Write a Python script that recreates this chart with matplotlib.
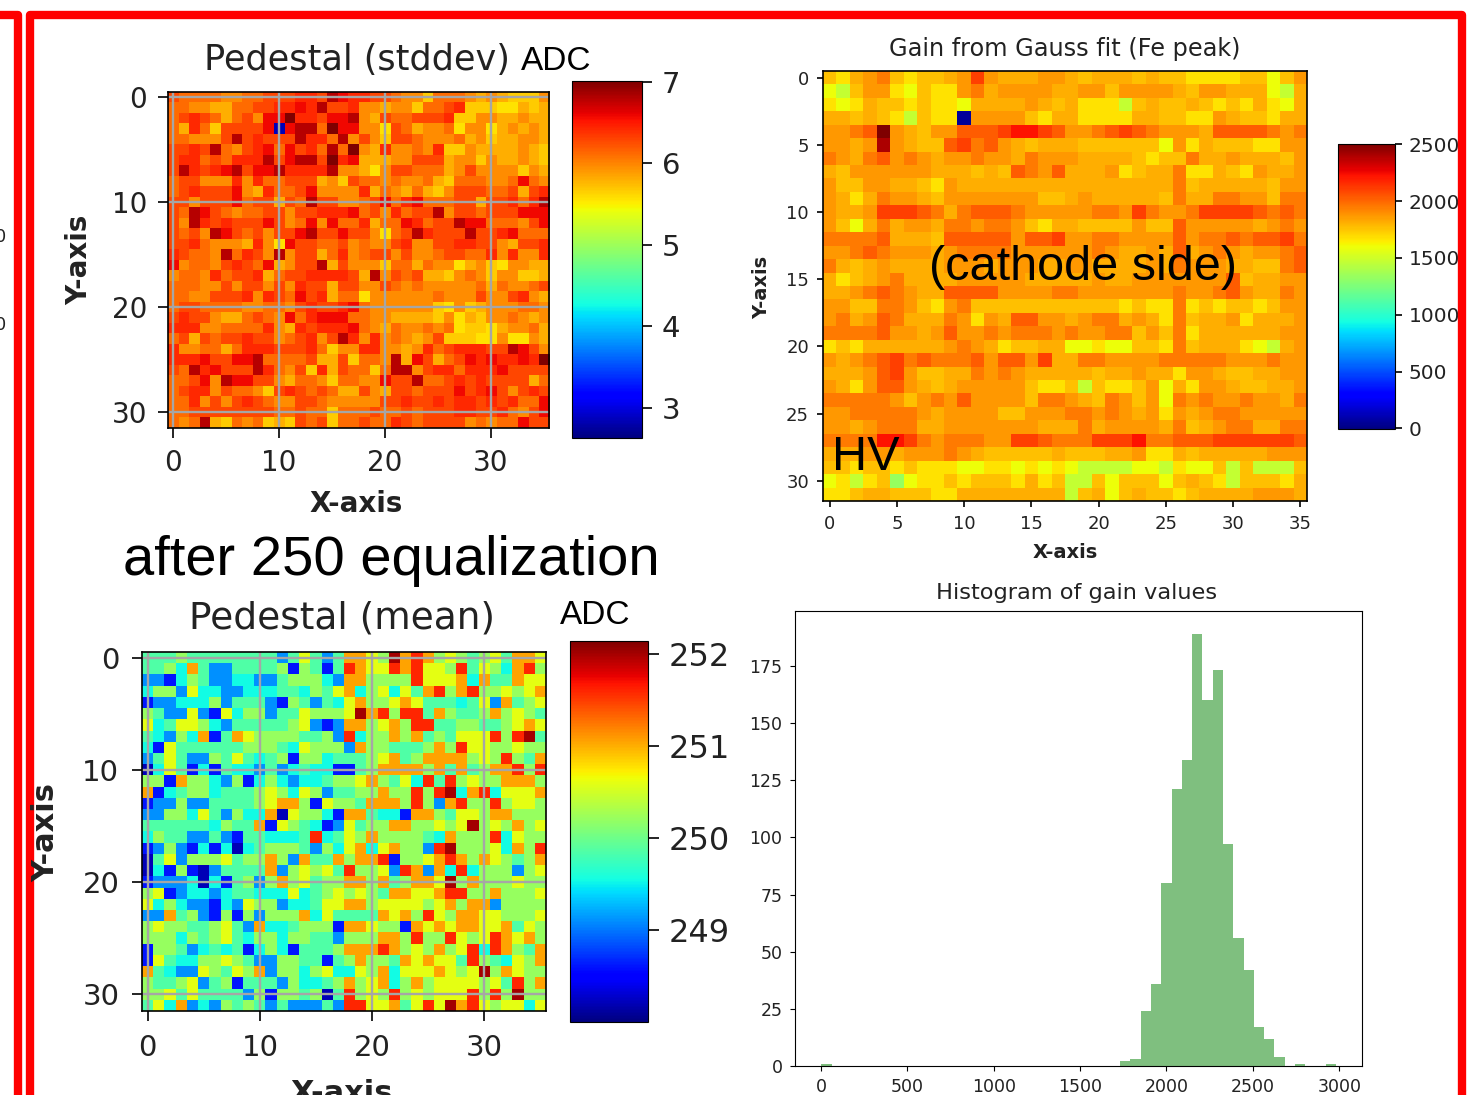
import numpy as np
import matplotlib
matplotlib.use('Agg')
import matplotlib.pyplot as plt

W, H = 1478, 1095

# colour classes, one character per cell
std_levels = {'0': 5.56, '1': 5.67, '2': 5.8, '3': 5.96, '4': 6.12, '5': 6.28, '6': 6.42,
              '7': 6.58, '8': 6.8, '9': 7.0, 'x': 2.85}
gain_levels = {'0': 1470, '1': 1600, '2': 1680, '3': 1760, '4': 1810, '5': 1870, '6': 1950,
               '7': 2030, '8': 2110, '9': 2220, 'D': 2400, 'R': 2500, 'B': 60, 'g': 1330}
mean_levels = {'0': 248.2, '1': 248.6, '2': 249.1, '3': 249.55, '4': 249.85, '5': 250.2,
               '6': 250.6, '7': 251.05, '8': 251.6, '9': 252.0}

std_rows = [
    "544443 344555 665876 655433 144432 321113",
    "443322 445566 768556 332331 445611 100212",
    "456542 453779 665778 325445 556113 322322",
    "426415 5557x7 884977 330542 334033 023232",
    "443335 856555 866483 531554 333423 122332",
    "556584 356747 564849 326334 361132 222321",
    "566454 666857 885967 222335 552331 322321",
    "586567 857786 666833 203554 442353 333132",
    "455333 636445 552315 443433 421444 334743",
    "456555 732644 573333 624324 213555 445256",
    "553555 745525 485533 457467 444552 556468",
    "548754 344553 556667 453645 583554 555777",
    "538656 555753 473744 624476 455877 444357",
    "545387 545355 785575 530458 655585 567444",
    "556433 326307 554453 433563 355665 532556",
    "654438 465383 552463 455353 345544 636336",
    "734435 654723 558253 331442 433023 103322",
    "344364 556245 566665 283545 221343 133112",
    "444335 355353 655255 335434 333334 243345",
    "443355 563654 756244 033333 343335 335632",
    "455444 433443 565567 433333 310312 333443",
    "565532 245437 467774 433222 213021 334323",
    "666334 444632 656667 432433 434011 023342",
    "452545 565534 563586 363432 351110 030032",
    "633442 466655 564133 663323 645666 558753",
    "666755 778444 452251 443827 524576 766769",
    "548675 558643 516254 414883 566466 675555",
    "445738 775532 443144 337558 445656 555524",
    "456635 443156 545422 532554 555756 753565",
    "446353 565433 554333 335565 565665 656447",
    "445555 555544 544144 454454 555665 564357",
    "434821 434121 545144 544654 555534 344755",
]

gain_rows = [
    "324563 233458 544455 434443 433222 233135",
    "103552 132256 455554 455355 554355 444104",
    "212433 232214 444543 422203 433432 324214",
    "443432 0322B5 555324 422224 433225 433244",
    "5567R5 435577 789987 556787 655547 777656",
    "5545D5 433786 754344 433333 315243 332255",
    "654675 654556 554655 544443 233644 544435",
    "435555 554443 437657 444523 446224 325445",
    "533554 432544 444444 444444 446344 444355",
    "542465 543555 555533 454444 436446 655366",
    "544588 876467 776555 556658 655688 887676",
    "531464 554665 665324 433335 337555 554565",
    "666674 443777 775778 556655 557566 767786",
    "556765 554566 665555 556544 547456 545567",
    "643454 444555 455544 554444 546555 443367",
    "423456 444455 555444 445445 555555 734455",
    "445676 544777 755556 655555 556556 754465",
    "553366 532563 333333 333323 226232 332355",
    "564576 444652 547755 456645 426344 524445",
    "666675 545755 656665 655663 536244 444455",
    "232444 444565 423344 112113 326344 421045",
    "545678 676667 577584 466555 566666 555655",
    "444578 533446 565444 443445 442554 334455",
    "542577 543455 555322 303223 514255 433445",
    "666665 356575 555366 543653 516565 565546",
    "556666 654555 533555 665654 525456 655555",
    "554566 644555 555544 464555 546345 664466",
    "666699 865666 558876 668889 667778 888887",
    "444554 555654 333334 333445 224344 444555",
    "332332 322211 221212 100001 102113 030003",
    "12023g 122323 332423 003133 313432 033324",
    "223443 332244 444444 034134 332344 445554",
]

mean_rows = [
    "444544 444444 246424 776597 875654 564776",
    "445374 224444 515414 876687 866584 653785",
    "221354 223322 455532 775555 866673 744766",
    "355263 322333 443546 735636 478578 556567",
    "122333 524442 154243 675567 644434 627456",
    "542262 163552 446555 697858 847544 575654",
    "634665 324444 456212 775675 884455 445676",
    "432537 147655 554452 835575 745466 685894",
    "316444 444555 436555 275544 457586 655655",
    "246422 546434 515534 445674 577775 658547",
    "036413 143324 234331 145777 757474 577858",
    "551755 325135 323345 567546 384856 557775",
    "713455 344456 536524 455755 858937 836667",
    "122522 444456 775165 547775 852785 585665",
    "225536 425337 065531 774331 775466 577555",
    "444444 354471 654312 645577 556569 565756",
    "354422 421443 334834 657555 543755 583655",
    "125213 130345 554253 673675 528955 563758",
    "046255 564557 527447 577815 567875 765457",
    "031510 244447 256564 855628 727383 555256",
    "122230 314525 756455 775745 776957 555655",
    "561233 234433 363456 565477 667885 575556",
    "635322 132655 233466 775666 656757 725555",
    "227452 151525 557364 444767 586577 665556",
    "565544 564273 345551 776551 767677 667465",
    "555354 564355 355442 555775 855865 687675",
    "155423 434135 314445 777875 657568 387547",
    "164335 565422 554414 575547 676648 543657",
    "743226 546572 553563 365736 667656 957655",
    "544562 451444 253345 756735 756666 564857",
    "556464 444251 554504 856585 656668 585955",
    "463723 254542 422242 886674 686978 656636",
]

# histogram of gain values
gain_counts = [1, 0, 0, 0, 0, 0, 0, 0, 0, 0, 0, 0, 0, 0, 0, 0, 0, 0, 0, 0, 0, 0, 0, 0, 0,
               0, 0, 0, 0, 2, 3, 24, 36, 80, 121, 134, 189, 160, 173, 97, 56, 42, 17, 12, 4,
               0, 1, 0, 0, 1]
gain_range = (3, 2983)


def decode(rows, levels):
    return np.array([[levels[c] for c in r.replace(' ', '')] for r in rows], dtype=float)


def box(left, top, right, bottom):
    return [left / W, 1 - bottom / H, (right - left) / W, (bottom - top) / H]


def heatmap(ax_box, cbar_box, data, vmin, vmax, ticks, cticks, tick_size, cbar_size, grid=True, pad=4, cpad=4):
    ax = fig.add_axes(box(*ax_box))
    im = ax.imshow(data, cmap='jet', vmin=vmin, vmax=vmax, aspect='auto', interpolation='nearest')
    ax.set_xticks(ticks[0])
    ax.set_yticks(ticks[1])
    ax.tick_params(labelsize=tick_size, pad=pad, length=tick_size * 0.35, width=1.2, labelcolor='#222222')
    if grid:
        ax.grid(True, color='#a6a6a6', linewidth=1.7)
    for s in ax.spines.values():
        s.set_linewidth(1.2)
    cax = fig.add_axes(box(*cbar_box))
    cb = fig.colorbar(im, cax=cax)
    cb.set_ticks(cticks)
    cb.ax.tick_params(labelsize=cbar_size, pad=cpad, length=cbar_size * 0.35, width=1.2, labelcolor='#222222')
    return ax


fig = plt.figure(figsize=(W / 100, H / 100), dpi=100)

std_data = decode(std_rows, std_levels)
gain_data = decode(gain_rows, gain_levels)
mean_data = decode(mean_rows, mean_levels)

heatmap((168, 92, 549, 428), (572, 81, 642, 438), std_data, 2.63, 7.01,
        ([0, 10, 20, 30], [0, 10, 20, 30]), [3, 4, 5, 6, 7], 20, 21, pad=8, cpad=7)
heatmap((823, 71, 1307, 501), (1338, 144, 1395, 429), gain_data, -5, 2503,
        ([0, 5, 10, 15, 20, 25, 30, 35], [0, 5, 10, 15, 20, 25, 30]),
        [0, 500, 1000, 1500, 2000, 2500], 13, 14.5, grid=False, pad=5.5, cpad=5)
heatmap((142, 652, 546, 1011), (570, 641, 648, 1022), mean_data, 248.0, 252.14,
        ([0, 10, 20, 30], [0, 10, 20, 30]), [249, 250, 251, 252], 21, 23, pad=9, cpad=7)

ax_hist = fig.add_axes(box(795, 611, 1362, 1066))
edges = np.linspace(gain_range[0], gain_range[1], len(gain_counts) + 1)
ax_hist.stairs(gain_counts, edges, fill=True, color='green', alpha=0.5)
ax_hist.set_xlim(-150, 3132)
ax_hist.set_ylim(0, 199)
ax_hist.set_xticks([0, 500, 1000, 1500, 2000, 2500, 3000])
ax_hist.set_yticks([0, 25, 50, 75, 100, 125, 150, 175])
ax_hist.tick_params(labelsize=12.5, pad=5.5, labelcolor='#222222')

# everything pasted on the slide goes on a pixel-coordinate overlay
ov = fig.add_axes([0, 0, 1, 1], zorder=10)
ov.set_xlim(0, W)
ov.set_ylim(H, 0)
ov.axis('off')

red = '#ff0000'
ov.plot([30, 30, 1462, 1462], [H + 10, 14.5, 14.5, H + 10], color=red, lw=6, solid_joinstyle='round')
ov.plot([-5, 18, 18], [14.5, 14.5, H + 10], color=red, lw=6, solid_joinstyle='round')

sans = ['DejaVu Sans']
arial = ['Liberation Sans']
ink = '#222222'
ov.text(357, 60, 'Pedestal (stddev)', ha='center', va='center', fontsize=25.3, family=sans, color=ink)
ov.text(342, 619, 'Pedestal (mean)', ha='center', va='center', fontsize=27, family=sans, color=ink)
ov.text(1065, 49, 'Gain from Gauss fit (Fe peak)', ha='center', va='center', fontsize=17.3, family=sans, color=ink)
ov.text(1077, 593, 'Histogram of gain values', ha='center', va='center', fontsize=16.2, family=sans, color=ink)

ov.text(356, 504, 'X-axis', ha='center', va='center', fontsize=20, family=sans, weight='bold', color=ink)
ov.text(79, 260, 'Y-axis', ha='center', va='center', fontsize=20, family=sans, weight='bold', rotation=90, color=ink)
ov.text(342, 1093, 'X-axis', ha='center', va='center', fontsize=22, family=sans, weight='bold', color=ink)
ov.text(46, 832, 'Y-axis', ha='center', va='center', fontsize=22, family=sans, weight='bold', rotation=90, color=ink)
ov.text(1065, 552, 'X-axis', ha='center', va='center', fontsize=14, family=sans, weight='bold', color=ink)
ov.text(762, 287, 'Y-axis', ha='center', va='center', fontsize=14, family=sans, weight='bold', rotation=90, color=ink)

ov.text(556, 62, 'ADC', ha='center', va='center', fontsize=24, family=arial, color='black')
ov.text(595, 616, 'ADC', ha='center', va='center', fontsize=24, family=arial, color='black')
ov.text(391, 561, 'after 250 equalization', ha='center', va='center', fontsize=40.4, family=arial, color='black')
ov.text(1083, 268, '(cathode side)', ha='center', va='center', fontsize=35, family=arial, color='black')
ov.text(866, 457, 'HV', ha='center', va='center', fontsize=35, family=arial, color='black')
ov.text(0, 237, '0', ha='center', va='center', fontsize=13, family=sans, color=ink)
ov.text(0, 325, '0', ha='center', va='center', fontsize=13, family=sans, color=ink)

fig.savefig('out.png', dpi=100)
